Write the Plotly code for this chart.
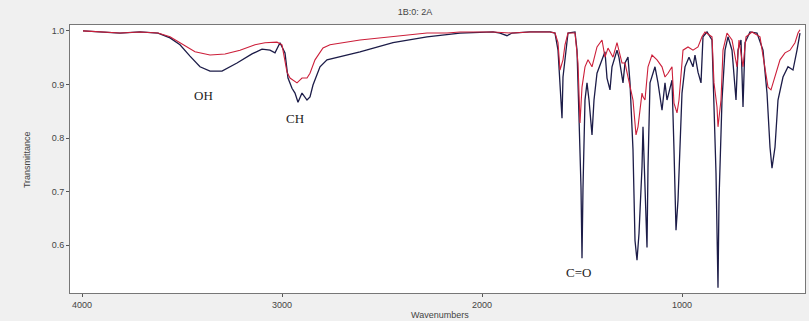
import plotly.graph_objects as go

# Sample 1 (dark trace)
wn_dark = [3995, 3910, 3810, 3710, 3620, 3560, 3510, 3460, 3410, 3360, 3300, 3225, 3150, 3100,
           3060, 3035, 3010, 2985, 2970, 2950, 2935, 2920, 2900, 2875, 2860, 2845, 2810, 2775,
           2610, 2445, 2275, 2110, 1945, 1910, 1875, 1850, 1760, 1660, 1635, 1620, 1610, 1600,
           1595, 1585, 1570, 1535, 1525, 1515, 1505, 1500, 1495, 1485, 1475, 1465, 1450, 1440,
           1425, 1400, 1385, 1375, 1360, 1350, 1325, 1315, 1295, 1285, 1270, 1260, 1245, 1235,
           1225, 1215, 1200, 1195, 1185, 1175, 1170, 1160, 1135, 1120, 1100, 1085, 1075, 1050,
           1040, 1030, 1020, 1000, 985, 965, 945, 935, 920, 905, 895, 875, 850, 840, 830, 820,
           815, 800, 785, 770, 750, 730, 720, 705, 695, 685, 660, 625, 595, 575, 560, 550, 535,
           520, 495, 470, 445, 425, 410]
t_dark = [1.000, 0.998, 0.996, 0.998, 0.996, 0.987, 0.974, 0.953, 0.933, 0.925, 0.925, 0.940, 0.957, 0.966,
          0.964, 0.959, 0.978, 0.959, 0.912, 0.893, 0.884, 0.867, 0.884, 0.871, 0.877, 0.899, 0.933, 0.946,
          0.961, 0.978, 0.989, 0.996, 0.998, 0.996, 0.991, 0.996, 0.998, 0.998, 0.996, 0.964, 0.903, 0.837,
          0.914, 0.946, 0.996, 0.998, 0.964, 0.839, 0.708, 0.576, 0.708, 0.871, 0.903, 0.871, 0.806, 0.871,
          0.921, 0.946, 0.961, 0.912, 0.890, 0.933, 0.964, 0.950, 0.903, 0.940, 0.951, 0.903, 0.778, 0.609,
          0.572, 0.622, 0.746, 0.821, 0.716, 0.596, 0.746, 0.903, 0.933, 0.903, 0.852, 0.903, 0.871, 0.908,
          0.778, 0.628, 0.684, 0.884, 0.933, 0.951, 0.933, 0.955, 0.923, 0.903, 0.989, 0.998, 0.983, 0.871, 0.735, 0.521,
          0.684, 0.871, 0.964, 0.989, 0.964, 0.871, 0.964, 0.983, 0.858, 0.978, 0.998, 0.996, 0.964, 0.884, 0.783, 0.744, 0.783,
          0.871, 0.914, 0.933, 0.927, 0.964, 0.996]

# Sample 2 (red trace)
wn_red = [3995, 3910, 3810, 3710, 3620, 3560, 3510, 3435, 3360, 3285, 3210, 3135, 3085, 3025,
          3000, 2975, 2960, 2925, 2900, 2875, 2860, 2835, 2795, 2760, 2610, 2445, 2275, 2175,
          2110, 1945, 1850, 1760, 1660, 1635, 1620, 1610, 1595, 1585, 1570, 1535, 1520, 1510,
          1500, 1485, 1470, 1450, 1425, 1400, 1385, 1370, 1345, 1325, 1300, 1285, 1260, 1245,
          1230, 1220, 1200, 1195, 1185, 1170, 1150, 1125, 1100, 1085, 1070, 1050, 1040, 1025,
          1015, 995, 970, 945, 920, 900, 885, 850, 840, 825, 820, 805, 795, 775, 750, 725, 715,
          695, 680, 650, 610, 585, 570, 555, 535, 510, 485, 460, 435, 420, 410]
t_red = [1.000, 0.998, 0.996, 0.998, 0.996, 0.989, 0.978, 0.961, 0.955, 0.957, 0.964, 0.974, 0.978, 0.979,
         0.974, 0.923, 0.912, 0.903, 0.912, 0.912, 0.921, 0.946, 0.968, 0.974, 0.983, 0.989, 0.996, 0.996,
         0.998, 0.998, 0.996, 0.998, 0.998, 0.996, 0.978, 0.927, 0.946, 0.974, 0.996, 0.996, 0.940, 0.828,
         0.895, 0.933, 0.946, 0.933, 0.970, 0.983, 0.951, 0.968, 0.951, 0.978, 0.940, 0.940, 0.895, 0.871,
         0.806, 0.821, 0.884, 0.877, 0.871, 0.933, 0.955, 0.946, 0.933, 0.914, 0.921, 0.933, 0.865, 0.847,
         0.871, 0.964, 0.970, 0.964, 0.970, 0.989, 0.998, 0.989, 0.903, 0.858, 0.821, 0.871, 0.964, 0.996, 0.983, 0.933, 0.983,
         0.933, 0.989, 0.998, 0.989, 0.933, 0.895, 0.890, 0.914, 0.946, 0.959, 0.964, 0.978, 0.996, 1.002]

x_ticks = [4000, 3000, 2000, 1000]
y_ticks = [0.6, 0.7, 0.8, 0.9, 1.0]
y_tick_text = ["0.6", "0.7", "0.8", "0.9", "1.0"]

labels = ["OH", "CH", "C=O"]
label_wn = [3395, 2935, 1520]
label_t = [0.879, 0.836, 0.55]

fig = go.Figure()
fig.add_trace(go.Scatter(x=wn_dark, y=t_dark, mode="lines",
                         line=dict(color="#1c1c48", width=1.3), showlegend=False))
fig.add_trace(go.Scatter(x=wn_red, y=t_red, mode="lines",
                         line=dict(color="#cc1f3a", width=1.1), showlegend=False))

for lab, xw, yt in zip(labels, label_wn, label_t):
    fig.add_annotation(x=xw, y=yt, text=lab, showarrow=False,
                       font=dict(family="Liberation Serif", size=13, color="#222"))

# axis titles
fig.add_annotation(xref="paper", yref="paper", x=0.503, y=-0.082, text="Wavenumbers",
                   showarrow=False, yanchor="middle",
                   font=dict(family="Liberation Sans", size=9, color="#444"))
fig.add_annotation(xref="paper", yref="paper", x=-0.068, y=0.496, text="Transmittance",
                   showarrow=False, textangle=-90,
                   font=dict(family="Liberation Sans Narrow, Liberation Sans", size=9, color="#444"))

fig.update_layout(
    width=809, height=321,
    margin=dict(l=70, r=4, t=25, b=28, autoexpand=False),
    paper_bgcolor="#f0f0f0", plot_bgcolor="white",
    title=dict(text="1B:0: 2A", x=0.513, xanchor="center", y=0.963, yanchor="middle",
               font=dict(family="Liberation Sans", size=9, color="#444")),
    font=dict(family="Liberation Sans", size=9, color="#444"),
)
fig.update_xaxes(range=[4060, 385], tickvals=x_ticks, ticks="outside", ticklen=3,
                 showgrid=False, zeroline=False, showline=True, linecolor="#777", mirror=True,
                 tickcolor="#555", tickfont=dict(size=9, color="#444"), automargin=False)
fig.update_yaxes(range=[0.511, 1.011], tickvals=y_ticks, ticktext=y_tick_text, ticks="outside",
                 ticklen=3, showgrid=False, zeroline=False, showline=True, linecolor="#777",
                 mirror=True, tickcolor="#555", tickfont=dict(size=9, color="#444"),
                 automargin=False)

fig.write_html("out.html", config={"displayModeBar": False},
               post_script="document.body.style.margin='0';document.body.style.background='#f0f0f0';")
